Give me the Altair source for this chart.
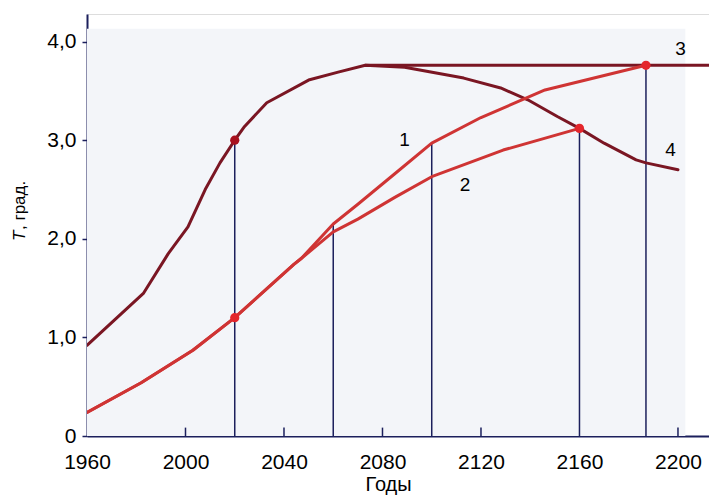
import altair as alt
import pandas as pd

# ---- data ----
# curve 4 (dark maroon)
c4_years = [1960, 1983, 1993, 2001, 2008, 2014, 2020, 2024, 2033, 2050, 2062, 2073,
            2089, 2113, 2128, 2139, 2151, 2160, 2170, 2183, 2187, 2200]
c4_vals = [0.92, 1.45, 1.85, 2.12, 2.50, 2.77, 3.00, 3.14, 3.38, 3.61, 3.69, 3.76,
           3.74, 3.63, 3.53, 3.41, 3.24, 3.12, 2.97, 2.80, 2.77, 2.70]
# line 3 (horizontal)
c3_years = [2073, 2216]
c3_vals = [3.76, 3.76]
# common part of curves 1 and 2
base_years = [1960, 1982, 2003, 2020, 2044, 2047]
base_vals = [0.24, 0.54, 0.87, 1.20, 1.74, 1.80]
# curve 1
c1_years = [2060, 2070, 2085, 2100, 2120, 2146, 2187]
c1_vals = [2.15, 2.35, 2.66, 2.97, 3.23, 3.51, 3.76]
# curve 2
c2_years = [2060, 2070, 2085, 2100, 2129, 2160]
c2_vals = [2.07, 2.20, 2.42, 2.63, 2.90, 3.12]

# marked points
dot_years = [2020, 2020, 2160, 2187]
dot_vals = [3.00, 1.20, 3.12, 3.76]
dot_kind = ["dark", "red", "red", "red"]

# vertical drop lines
vl_years = [2020, 2060, 2100, 2160, 2187]
vl_tops = [3.00, 2.15, 2.97, 3.12, 3.76]

# curve labels
lab_text = ["1", "2", "3", "4"]
lab_years = [2089, 2113.5, 2201, 2197]
lab_vals = [3.00, 2.55, 3.92, 2.90]

# axis ticks
x_ticks = [1960, 2000, 2040, 2080, 2120, 2160, 2200]
x_inner_ticks = [2000, 2040, 2080, 2120, 2200]
y_ticks = [0, 1, 2, 3, 4]

# ---- styling ----
FONT = "Liberation Sans"
NAVY = "#1b1f5c"
MAROON = "#7a1623"
RED = "#cf3434"
X_DOM = [1960, 2212.6]
Y_DOM = [0, 4.28]

xs = alt.Scale(domain=X_DOM, nice=False, zero=False)
ys = alt.Scale(domain=Y_DOM, nice=False)

c4 = pd.DataFrame({"year": c4_years, "T": c4_vals})
c3 = pd.DataFrame({"year": c3_years, "T": c3_vals})
c1 = pd.DataFrame({"year": base_years + c1_years, "T": base_vals + c1_vals})
c2 = pd.DataFrame({"year": base_years + c2_years, "T": base_vals + c2_vals})
dots = pd.DataFrame({"year": dot_years, "T": dot_vals, "kind": dot_kind})
vls = pd.DataFrame({"year": vl_years, "top": vl_tops, "bottom": [0] * len(vl_years)})
labs = pd.DataFrame({"year": lab_years, "T": lab_vals, "txt": lab_text})
itk = pd.DataFrame({"year": x_inner_ticks, "a": [0] * len(x_inner_ticks),
                    "b": [0.085] * len(x_inner_ticks)})
bg = pd.DataFrame({"x1": [1960], "x2": [2203], "y1": [0], "y2": [4.13]})

x_axis = alt.Axis(values=x_ticks, format="d", tickSize=0, labelPadding=15,
                  labelFontSize=21, labelFont=FONT, labelColor="black",
                  labelFlush=False, domainColor=NAVY, domainWidth=2, grid=False,
                  title="Годы", titleFont=FONT, titleFontSize=20,
                  titleFontWeight="normal", titleColor="black",
                  titleX=301, titleY=54, titleBaseline="alphabetic")
y_axis = alt.Axis(values=y_ticks, tickSize=5, tickColor=NAVY, tickWidth=1.5,
                  labelPadding=6, labelFontSize=21, labelFont=FONT,
                  labelColor="black", labelFlush=False,
                  labelExpr="datum.value == 0 ? '0' : replace(format(datum.value, '.1f'), '.', ',')",
                  domainColor=NAVY, domainWidth=2, grid=False, title=None)

background = alt.Chart(bg).mark_rect(color="#f3f5f9").encode(
    x=alt.X("x1:Q", scale=xs, axis=x_axis), x2="x2:Q",
    y=alt.Y("y1:Q", scale=ys, axis=y_axis), y2="y2:Q")

vlines = alt.Chart(vls).mark_rule(color=NAVY, strokeWidth=1.5).encode(
    x=alt.X("year:Q", scale=xs), y=alt.Y("bottom:Q", scale=ys), y2="top:Q")

inner_ticks = alt.Chart(itk).mark_rule(color=NAVY, strokeWidth=1.5).encode(
    x=alt.X("year:Q", scale=xs), y=alt.Y("a:Q", scale=ys), y2="b:Q")

def line(df, color, width=3):
    return alt.Chart(df).mark_line(color=color, strokeWidth=width, clip=True,
                                   strokeCap="round", strokeJoin="round").encode(
        x=alt.X("year:Q", scale=xs), y=alt.Y("T:Q", scale=ys), order="year:Q")

l3 = line(c3, MAROON)
l4 = line(c4, MAROON)
l1 = line(c1, RED)
l2 = line(c2, RED)

pts = alt.Chart(dots).mark_circle(size=85, opacity=1).encode(
    x=alt.X("year:Q", scale=xs), y=alt.Y("T:Q", scale=ys),
    color=alt.Color("kind:N", scale=alt.Scale(domain=["dark", "red"],
                                               range=["#a8101e", "#e4262c"]),
                    legend=None))

labels = alt.Chart(labs).mark_text(font=FONT, fontSize=19, color="black",
                                   align="center", baseline="middle").encode(
    x=alt.X("year:Q", scale=xs), y=alt.Y("T:Q", scale=ys), text="txt:N")

ytitle_T = alt.Chart(pd.DataFrame({"t": ["T"]})).mark_text(
    font=FONT, fontSize=17, fontStyle="italic", angle=270, align="left",
    baseline="middle", color="black").encode(
    x=alt.value(-67), y=alt.value(227), text="t:N")
ytitle_rest = alt.Chart(pd.DataFrame({"t": [", град."]})).mark_text(
    font=FONT, fontSize=17, angle=270, align="left",
    baseline="middle", color="black").encode(
    x=alt.value(-67), y=alt.value(216), text="t:N")

chart = alt.layer(background, vlines, inner_ticks, l3, l4, l1, l2, pts, labels,
                  ytitle_T, ytitle_rest).properties(
    width=622, height=422,
    autosize=alt.AutoSizeParams(type="none"),
    padding={"left": 79, "top": 6, "right": 0, "bottom": 60},
).configure_view(stroke=None).configure(background="white")

chart.save("out.html", embed_options={"renderer": "svg", "actions": False})
